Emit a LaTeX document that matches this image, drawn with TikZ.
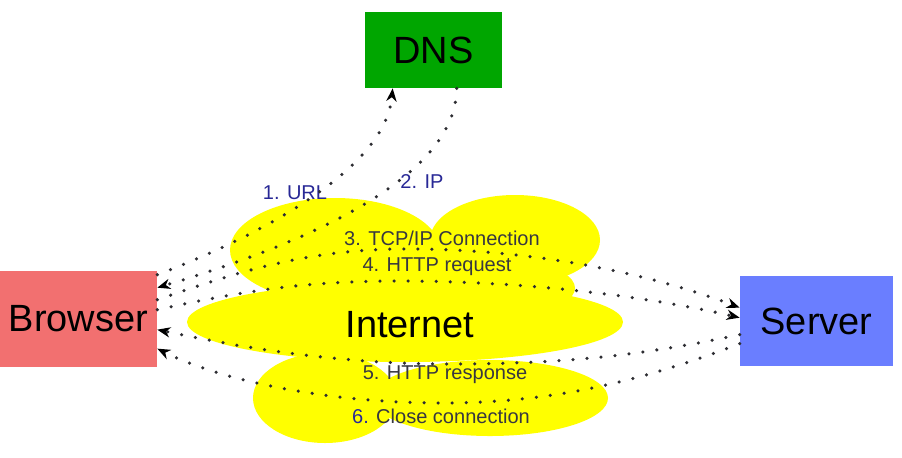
\documentclass[tikz,border=0pt]{standalone}
\usepackage{fontspec}
\setmainfont{Liberation Sans}
\usetikzlibrary{arrows.meta, positioning, calc}
\definecolor{browserColor}{RGB}{242,112,112}
\definecolor{dnsColor}{RGB}{0,166,0}
\definecolor{serverColor}{RGB}{106,126,255}
\definecolor{cloudColor}{RGB}{255,255,0}
\definecolor{urlColor}{RGB}{40,40,150}
\definecolor{msgColor}{RGB}{56,56,64}
\definecolor{dotColor}{RGB}{45,45,50}
\newcommand{\boxfont}{\fontsize{21.6}{24}\selectfont}
\newcommand{\tagfont}{\fontsize{11.4}{13}\selectfont}
\tikzstyle{machine} = [rectangle, inner sep=0pt, text centered, font=\boxfont]
\tikzstyle{message} = [draw=dotColor, line width=2pt, line cap=round, dash pattern=on 0pt off 8pt, ->, >={Stealth[length=7.5pt,width=6pt,line width=0pt,color=black]}]
\tikzstyle{tag} = [font=\tagfont, text=msgColor, inner sep=0pt]

\begin{document}
\begin{tikzpicture}[x=0.02cm, y=-0.02cm]
	\useasboundingbox (0,0) rectangle (902,457);
	% the cloud
	\fill[cloudColor] (335,250) ellipse [x radius=105, y radius=52];
	\fill[cloudColor] (515,240) ellipse [x radius=85, y radius=45];
	\fill[cloudColor] (425,288) ellipse [x radius=150, y radius=40];
	\fill[cloudColor] (405,322) ellipse [x radius=218, y radius=40];
	\fill[cloudColor] (325,398) ellipse [x radius=72, y radius=45];
	\fill[cloudColor] (490,398) ellipse [x radius=118, y radius=38];
	\node (internet) at (410,325) [font=\boxfont] {Internet};

	\node (browser) at (78.5,319) [machine, fill=browserColor, minimum width=3.14cm, minimum height=1.92cm] {Browser};
	\node (dns) at (433.5,50) [machine, fill=dnsColor, minimum width=2.74cm, minimum height=1.52cm] {DNS};
	\node (server) at (816.5,321) [machine, fill=serverColor, minimum width=3.06cm, minimum height=1.8cm] {Server};

	\node (url) at (295,193) [tag, text=urlColor] {1. URL};
	\node (ip) at (422,182) [tag, text=urlColor] {2. IP};
	\node (tcp) at (442,238) [tag] {3. TCP/IP Connection};
	\node (req) at (437,267) [tag] {4. HTTP request};
	\node (resp) at (445,375) [tag] {5. HTTP response};
	\node (close) at (441,416) [tag] {{\color{urlColor}6.} Close connection};

	\draw[message] ($(browser.north east)+(0,4)$) .. controls (255,238) and (385,170) .. ($(dns.south west)+(28,0)$);
	\draw[message] ($(dns.south west)+(92,0)$) .. controls (456,180) and (300,245) .. ($(browser.north east)+(0,17)$);
	\draw[message] ($(browser.north east)+(0,29)$) .. controls (230,275) and (300,250) .. (400,249) .. controls (520,248) and (640,270) .. ($(server.north west)+(0,32)$);
	\draw[message] ($(browser.north east)+(0,39)$) .. controls (240,292) and (300,281) .. (400,281) .. controls (520,281) and (640,295) .. ($(server.north west)+(0,42)$);
	\draw[message] ($(server.north west)+(0,59)$) .. controls (640,356) and (560,364) .. (450,364) .. controls (330,364) and (230,345) .. ($(browser.north east)+(0,59)$);
	\draw[message] ($(server.north west)+(0,68)$) .. controls (650,378) and (560,402) .. (450,403) .. controls (330,404) and (220,380) .. ($(browser.north east)+(0,78)$);
\end{tikzpicture}
\end{document}
